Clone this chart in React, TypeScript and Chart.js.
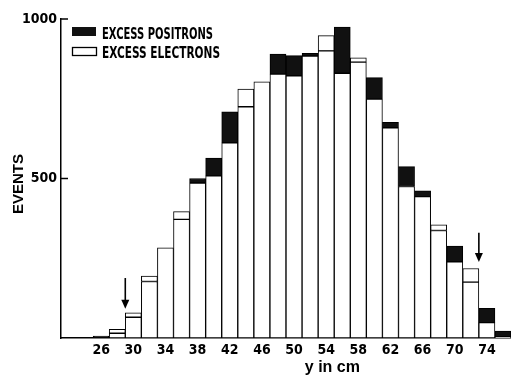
import React, { useEffect, useRef } from "react";
import { Chart, registerables } from "chart.js";

Chart.register(...registerables);

// bin centres (cm)
const bins = [22, 24, 26, 28, 30, 32, 34, 36, 38, 40, 42, 44, 46, 48, 50, 52, 54, 56, 58, 60, 62, 64, 66, 68, 70, 72, 74, 76];
const tickLabels = [26, 30, 34, 38, 42, 46, 50, 54, 58, 62, 66, 70, 74];
// common part of each bin (min of electrons, positrons)
const common = [null, null, null, 15, 65, 177, 283, 372, 486, 508, 612, 725, 803, 827, 822, 884, 900, 830, 865, 749, 659, 475, 443, 337, 239, 175, 48, 4];
// excess positrons (black)
const excessPositrons = [null, null, 6, null, null, null, null, null, 14, 56, 97, null, null, 63, 63, 8, null, 145, null, 67, 17, 62, 18, null, 49, null, 45, 18];
// excess electrons (white)
const excessElectrons = [null, null, null, 12, 14, 17, null, 24, null, null, null, 55, null, null, null, null, 48, null, 13, null, null, null, null, 18, null, 43, null, null];
const yTicks = [500, 1000];
// arrows marking the acceptance limits
const arrowX = [29, 73];
const arrowFrom = [188, 330];
const arrowTo = [92, 238];

const NARROW = '"Liberation Sans Narrow", "DejaVu Sans Condensed", sans-serif';
const SANS = '"Liberation Sans", Arial, sans-serif';

const decorPlugin = {
  id: "decor",
  afterDraw(chart: any) {
    const { ctx, chartArea, scales } = chart;
    const x = scales.x;
    const y = scales.y;
    ctx.save();
    ctx.strokeStyle = "#000";
    ctx.fillStyle = "#000";
    // inner ticks on y axis
    ctx.lineWidth = 1.5;
    yTicks.forEach((v) => {
      const py = y.getPixelForValue(v);
      ctx.beginPath();
      ctx.moveTo(chartArea.left, py);
      ctx.lineTo(chartArea.left + 7, py);
      ctx.stroke();
    });
    // arrows
    const step = x.getPixelForValue(1) - x.getPixelForValue(0);
    arrowX.forEach((cm, i) => {
      const idx = (cm - bins[0]) / 2;
      const px = x.getPixelForValue(0) + idx * step;
      const y0 = y.getPixelForValue(arrowFrom[i]);
      const y1 = y.getPixelForValue(arrowTo[i]);
      ctx.lineWidth = 1.6;
      ctx.beginPath();
      ctx.moveTo(px, y0);
      ctx.lineTo(px, y1 - 6);
      ctx.stroke();
      ctx.beginPath();
      ctx.moveTo(px - 4, y1 - 9);
      ctx.lineTo(px + 4, y1 - 9);
      ctx.lineTo(px, y1);
      ctx.closePath();
      ctx.fill();
    });
    // legend
    const lx = chartArea.left + 11;
    ctx.fillStyle = "#111";
    ctx.fillRect(lx, 27, 24, 9);
    ctx.lineWidth = 1.3;
    ctx.strokeRect(lx + 0.5, 47.5, 24, 8);
    ctx.fillStyle = "#000";
    ctx.font = `bold 16px ${NARROW}`;
    ctx.textBaseline = "alphabetic";
    ctx.textAlign = "left";
    const drawFit = (t: string, tx: number, ty: number, w: number) => {
      const m = ctx.measureText(t).width;
      ctx.save();
      ctx.translate(tx, ty);
      ctx.scale(w / m, 1);
      ctx.fillText(t, 0, 0);
      ctx.restore();
    };
    drawFit("EXCESS POSITRONS", lx + 30, 38.5, 111);
    drawFit("EXCESS ELECTRONS", lx + 30, 57.5, 118);
    // x title
    ctx.font = `bold 16px ${SANS}`;
    ctx.textAlign = "center";
    ctx.fillText("y in cm", chartArea.left + chartArea.width * 0.603, 372);
    // y title
    ctx.save();
    ctx.translate(19, 184);
    ctx.rotate(-Math.PI / 2);
    ctx.font = `bold 15px ${SANS}`;
    ctx.textAlign = "center";
    ctx.textBaseline = "middle";
    ctx.fillText("EVENTS", 0, 0);
    ctx.restore();
    ctx.restore();
  },
};

export default function App() {
  const ref = useRef<HTMLCanvasElement | null>(null);
  useEffect(() => {
    if (!ref.current) return;
    const barStyle = {
      borderColor: "#000",
      borderWidth: 1,
      borderSkipped: false as const,
      barPercentage: 1,
      categoryPercentage: 1,
    };
    const chart = new Chart(ref.current, {
      type: "bar",
      data: {
        labels: bins.map(String),
        datasets: [
          { label: "common", data: common as any, backgroundColor: "#fff", ...barStyle },
          { label: "EXCESS POSITRONS", data: excessPositrons as any, backgroundColor: "#111", ...barStyle },
          { label: "EXCESS ELECTRONS", data: excessElectrons as any, backgroundColor: "#fff", ...barStyle },
        ],
      },
      options: {
        animation: false,
        responsive: true,
        maintainAspectRatio: false,
        layout: { padding: { top: 19, right: 0, left: 0, bottom: 0 } },
        plugins: { legend: { display: false }, tooltip: { enabled: false } },
        scales: {
          x: {
            type: "category",
            stacked: true,
            offset: true,
            grid: { display: false, drawTicks: false },
            border: { display: true, color: "#000", width: 1.5 },
            ticks: {
              autoSkip: false,
              maxRotation: 0,
              padding: 4,
              color: "#000",
              font: { family: NARROW, weight: "bold", size: 14 },
              callback: (_v: any, i: number) => (tickLabels.includes(bins[i]) ? String(bins[i]) : ""),
            },
            afterFit: (s: any) => {
              s.height = 39;
            },
          },
          y: {
            stacked: true,
            min: 0,
            max: 1000,
            afterBuildTicks: (s: any) => {
              s.ticks = yTicks.map((v) => ({ value: v }));
            },
            grid: { display: false, drawTicks: false },
            border: { display: true, color: "#000", width: 1.5 },
            ticks: {
              padding: 4,
              color: "#000",
              font: { family: NARROW, weight: "bold", size: 14 },
              callback: (v: any) => String(v),
            },
            afterFit: (s: any) => {
              s.width = 61;
            },
          },
        },
      } as any,
      plugins: [decorPlugin],
    });
    return () => chart.destroy();
  }, []);
  return (
    <div style={{ position: "fixed", left: 0, top: 0, width: 511, height: 377, background: "#fff" }}>
      <canvas ref={ref} />
    </div>
  );
}
